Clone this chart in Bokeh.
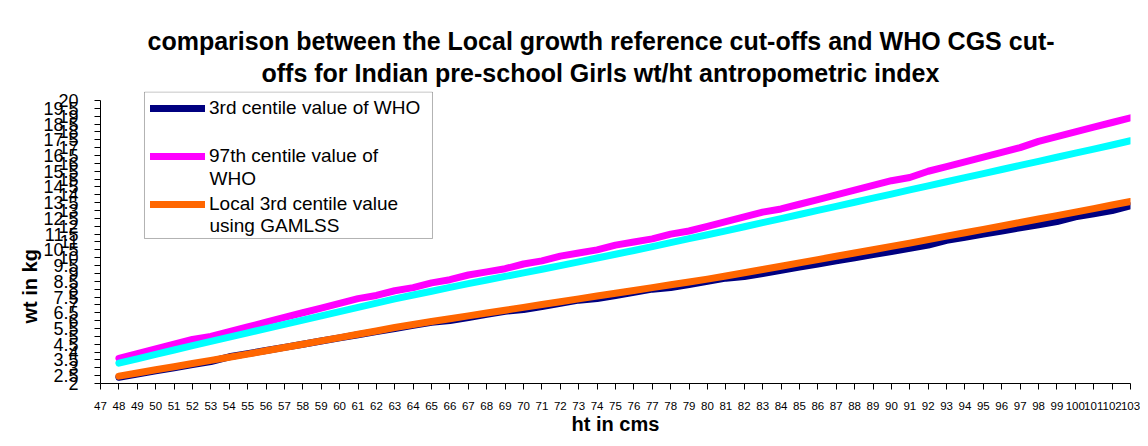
from bokeh.plotting import figure
from bokeh.models import (Range1d, FixedTicker, NumeralTickFormatter, Legend, LegendItem,
                          Label, Title, BoxAnnotation)
from bokeh.embed import file_html
from bokeh.resources import INLINE

# ---------------- data ----------------
heights = [48, 49, 50, 51, 52, 53, 54, 55, 56, 57, 58, 59, 60, 61, 62, 63, 64, 65,
           66, 67, 68, 69, 70, 71, 72, 73, 74, 75, 76, 77, 78, 79, 80, 81, 82, 83,
           84, 85, 86, 87, 88, 89, 90, 91, 92, 93, 94, 95, 96, 97, 98, 99, 100, 101,
           102, 103]

who_p3 = [2.4, 2.6, 2.8, 3.0, 3.2, 3.4, 3.7, 3.9, 4.1, 4.3, 4.5, 4.7, 4.9, 5.1,
          5.3, 5.5, 5.7, 5.9, 6.0, 6.2, 6.4, 6.6, 6.7, 6.9, 7.1, 7.3, 7.4, 7.6,
          7.8, 8.0, 8.1, 8.3, 8.5, 8.7, 8.8, 9.0, 9.2, 9.4, 9.6, 9.8, 10.0, 10.2,
          10.4, 10.6, 10.8, 11.1, 11.3, 11.5, 11.7, 11.9, 12.1, 12.3, 12.6, 12.8,
          13.0, 13.3]

who_p97 = [3.6, 3.9, 4.2, 4.5, 4.8, 5.0, 5.3, 5.6, 5.9, 6.2, 6.5, 6.8, 7.1, 7.4,
           7.6, 7.9, 8.1, 8.4, 8.6, 8.9, 9.1, 9.3, 9.6, 9.8, 10.1, 10.3, 10.5, 10.8,
           11.0, 11.2, 11.5, 11.7, 12.0, 12.3, 12.6, 12.9, 13.1, 13.4, 13.7, 14.0,
           14.3, 14.6, 14.9, 15.1, 15.5, 15.8, 16.1, 16.4, 16.7, 17.0, 17.4, 17.7,
           18.0, 18.3, 18.6, 18.9]

local_p3 = [2.47, 2.67, 2.87, 3.07, 3.27, 3.47, 3.67, 3.87, 4.08, 4.29, 4.50, 4.71,
            4.92, 5.13, 5.34, 5.56, 5.75, 5.94, 6.12, 6.30, 6.48, 6.66, 6.84, 7.02,
            7.20, 7.38, 7.56, 7.74, 7.92, 8.10, 8.28, 8.46, 8.64, 8.84, 9.04, 9.25,
            9.46, 9.67, 9.88, 10.09, 10.30, 10.51, 10.72, 10.93, 11.15, 11.37, 11.59,
            11.80, 12.02, 12.24, 12.46, 12.68, 12.90, 13.12, 13.35, 13.58]

local_p97 = [3.29, 3.57, 3.85, 4.13, 4.41, 4.68, 4.95, 5.22, 5.49, 5.76, 6.03, 6.30,
             6.57, 6.84, 7.11, 7.38, 7.63, 7.87, 8.11, 8.35, 8.58, 8.81, 9.04, 9.27,
             9.50, 9.74, 9.98, 10.22, 10.46, 10.71, 10.96, 11.21, 11.46, 11.71, 11.97,
             12.23, 12.49, 12.75, 13.01, 13.27, 13.53, 13.79, 14.05, 14.31, 14.57,
             14.83, 15.09, 15.35, 15.61, 15.87, 16.13, 16.39, 16.65, 16.91, 17.17, 17.44]

x_ticks = [47, 48, 49, 50, 51, 52, 53, 54, 55, 56, 57, 58, 59, 60, 61, 62, 63, 64,
           65, 66, 67, 68, 69, 70, 71, 72, 73, 74, 75, 76, 77, 78, 79, 80, 81, 82,
           83, 84, 85, 86, 87, 88, 89, 90, 91, 92, 93, 94, 95, 96, 97, 98, 99, 100,
           101, 102, 103]
y_ticks = [2, 2.5, 3, 3.5, 4, 4.5, 5, 5.5, 6, 6.5, 7, 7.5, 8, 8.5, 9, 9.5, 10,
           10.5, 11, 11.5, 12, 12.5, 13, 13.5, 14, 14.5, 15, 15.5, 16, 16.5, 17,
           17.5, 18, 18.5, 19, 19.5, 20]

title_lines = ["comparison between the Local growth reference cut-offs and WHO CGS cut-",
               "offs for Indian pre-school Girls wt/ht antropometric index"]
legend_labels = ["3rd centile value of WHO", "97th centile value of",
                 "Local 3rd centile value"]
legend_more = ["WHO", "using GAMLSS"]

FONT = "Liberation Sans"

# frame: x 100..1130, y 91..383 (y axis drawn 2..20, the extra top room holds the legend)
p = figure(width=1140, height=438, x_range=Range1d(47, 103), y_range=Range1d(2, 20.572),
           output_backend="svg", toolbar_location=None, title=None,
           min_border_left=100, min_border_right=10, min_border_top=91,
           min_border_bottom=55)
p.outline_line_color = None
p.xgrid.visible = False
p.ygrid.visible = False
p.background_fill_color = "white"
p.border_fill_color = "white"

r_who3 = p.line(heights, who_p3, line_color="#000080", line_width=7,
                line_cap="round", line_join="round")
r_who97 = p.line(heights, who_p97, line_color="#FF00FF", line_width=7,
                 line_cap="round", line_join="round")
r_loc3 = p.line(heights, local_p3, line_color="#FF6600", line_width=7,
                line_cap="round", line_join="round")
r_loc97 = p.line(heights, local_p97, line_color="#00FFFF", line_width=7,
                 line_cap="round", line_join="round")

xa = p.xaxis[0]
xa.ticker = FixedTicker(ticks=x_ticks, minor_ticks=[])
xa.major_tick_out = 6
xa.major_tick_in = 0
xa.minor_tick_out = 0
xa.major_label_standoff = 12
xa.major_label_text_font = FONT
xa.major_label_text_font_size = "11.5px"
xa.major_label_text_color = "black"
xa.axis_line_color = "black"
xa.major_tick_line_color = "black"
xa.axis_label = "ht in cms"
xa.axis_label_text_font = FONT
xa.axis_label_text_font_style = "bold"
xa.axis_label_text_font_size = "20px"
xa.axis_label_text_color = "black"
xa.axis_label_standoff = 0

ya = p.yaxis[0]
ya.ticker = FixedTicker(ticks=y_ticks, minor_ticks=[])
ya.formatter = NumeralTickFormatter(format="0.[0]")
ya.bounds = (2, 20)
ya.major_tick_out = 6
ya.major_tick_in = 0
ya.minor_tick_out = 0
ya.major_label_standoff = 16
ya.major_label_text_font = FONT
ya.major_label_text_font_size = "18px"
ya.major_label_text_color = "black"
ya.axis_line_color = "black"
ya.major_tick_line_color = "black"

# titles
p.add_layout(Title(text=title_lines[1], align="left", offset=161, standoff=9,
                   text_font=FONT, text_font_style="bold", text_font_size="25px",
                   text_line_height=1.0, text_color="black"), "above")
p.add_layout(Title(text=title_lines[0], align="left", offset=47, standoff=-4,
                   text_font=FONT, text_font_style="bold", text_font_size="25px",
                   text_line_height=1.0, text_color="black"), "above")
p.add_layout(Title(text="wt in kg", align="left", offset=60, standoff=0,
                   text_font=FONT, text_font_style="bold", text_font_size="20px",
                   text_color="black"), "left")

# legend box, entries and wrapped continuation lines
p.add_layout(BoxAnnotation(left=49.392, right=65.05, top=20.541, bottom=11.223,
                           fill_color="white", fill_alpha=1, line_color="black",
                           line_width=1))
legend = Legend(items=[LegendItem(label=legend_labels[0], renderers=[r_who3]),
                       LegendItem(label=legend_labels[1], renderers=[r_who97]),
                       LegendItem(label=legend_labels[2], renderers=[r_loc3])],
                location=(46, 164))
legend.label_text_font = FONT
legend.label_text_font_size = "19px"
legend.label_text_color = "black"
legend.label_height = 22
legend.glyph_width = 55
legend.glyph_height = 22
legend.label_standoff = 4
legend.padding = 4
legend.spacing = 26
legend.margin = 0
legend.border_line_alpha = 0
legend.background_fill_alpha = 0
p.add_layout(legend)
p.add_layout(Label(x=52.926, y=15.039, text=legend_more[0], text_align="left",
                   text_baseline="middle", text_font=FONT, text_font_size="19px",
                   text_color="black"))
p.add_layout(Label(x=52.926, y=12.05, text=legend_more[1], text_align="left",
                   text_baseline="middle", text_font=FONT, text_font_size="19px",
                   text_color="black"))

open("out.html", "w").write(file_html(p, INLINE))
